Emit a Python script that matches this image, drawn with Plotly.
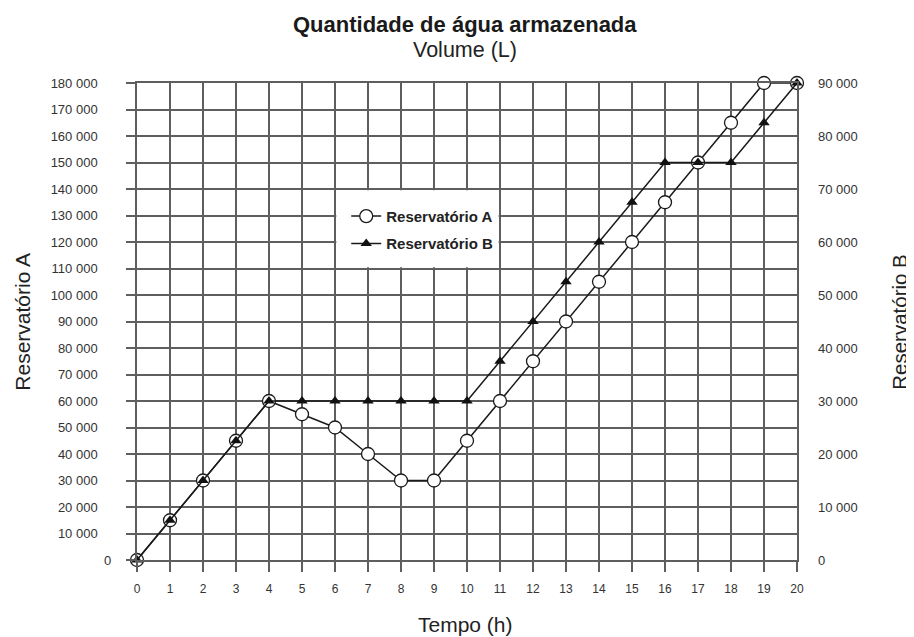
import plotly.graph_objects as go

hours = list(range(21))
res_a = [0, 15000, 30000, 45000, 60000, 55000, 50000, 40000, 30000, 30000, 45000,
         60000, 75000, 90000, 105000, 120000, 135000, 150000, 165000, 180000, 180000]
res_b = [0, 7500, 15000, 22500, 30000, 30000, 30000, 30000, 30000, 30000, 30000,
         37500, 45000, 52500, 60000, 67500, 75000, 75000, 75000, 82500, 90000]

left_vals = list(range(0, 180001, 10000))
left_text = ["" if v == 0 else f"{v:,}".replace(",", " ") for v in left_vals]
right_vals = list(range(0, 90001, 10000))
right_text = [f"{v:,}".replace(",", " ") for v in right_vals]

FONT = "Liberation Sans, Arial, sans-serif"
GRID = "#5e5e5e"

fig = go.Figure()
fig.add_trace(go.Scatter(
    x=hours, y=res_a, name="Reservatório A", mode="lines+markers",
    line=dict(color="#1a1a1a", width=1.5),
    marker=dict(symbol="circle", size=13, color="white", line=dict(color="#1a1a1a", width=1.3)),
    cliponaxis=False, legendgroup="a"))
fig.add_trace(go.Scatter(
    x=hours, y=res_b, name="Reservatório B", mode="lines+markers", yaxis="y2",
    line=dict(color="#1a1a1a", width=1.5),
    marker=dict(symbol="triangle-up", size=10, color="#111111", line=dict(width=0)),
    cliponaxis=False, legendgroup="b"))

fig.update_layout(
    width=906, height=629,
    margin=dict(l=129, r=117, t=75, b=77),
    paper_bgcolor="white", plot_bgcolor="white",
    font=dict(family=FONT, color="#333333"),
    xaxis=dict(range=[0, 20], tickvals=hours, showgrid=True, gridcolor=GRID, gridwidth=1.5,
               zeroline=False, showline=True, linecolor=GRID, linewidth=1.5, mirror=True,
               ticks="outside", ticklen=10, tickcolor=GRID, tickwidth=1.5,
               tickfont=dict(size=12, color="#333333"), ticklabelstandoff=7),
    yaxis=dict(range=[0, 180000], tickvals=left_vals, ticktext=left_text, showgrid=True,
               gridcolor=GRID, gridwidth=1.5, zeroline=False, showline=True, linecolor=GRID,
               linewidth=1.5, mirror=True, ticks="outside", ticklen=9, tickcolor=GRID,
               tickwidth=1.5, tickfont=dict(size=13, color="#333333"), ticklabelstandoff=26),
    yaxis2=dict(range=[0, 90000], overlaying="y", side="right", tickvals=right_vals,
                ticktext=right_text, showgrid=False, zeroline=False, showline=False,
                ticks="", tickfont=dict(size=13, color="#333333"), ticklabelstandoff=20),
    showlegend=True,
    legend=dict(x=0.317, y=0.755, xanchor="left", yanchor="top", bgcolor="rgba(0,0,0,0)",
                font=dict(size=15, color="#222222", family=FONT, weight="bold"),
                traceorder="grouped", tracegroupgap=5, itemwidth=30),
    shapes=[dict(type="rect", xref="x", yref="y", x0=6.04, x1=10.96, y0=110500, y1=139500,
                 fillcolor="white", line=dict(width=0), layer="above")],
    annotations=[
        dict(text="<b>Quantidade de água armazenada</b>", xref="paper", yref="paper",
             x=0.497, y=1.1216, xanchor="center", yanchor="middle", showarrow=False,
             font=dict(size=22, color="#1a1a1a")),
        dict(text="Volume (L)", xref="paper", yref="paper", x=0.497, y=1.069,
             xanchor="center", yanchor="middle", showarrow=False,
             font=dict(size=21.5, color="#222222")),
        dict(text="Reservatório A", xref="paper", yref="paper", x=-0.174, y=0.5,
             xanchor="center", yanchor="middle", textangle=-90, showarrow=False,
             font=dict(size=21, color="#222222")),
        dict(text="Reservatório B", xref="paper", yref="paper", x=1.155, y=0.5,
             xanchor="center", yanchor="middle", textangle=-90, showarrow=False,
             font=dict(size=20.5, color="#222222")),
        dict(text="Tempo (h)", xref="paper", yref="paper", x=0.497, y=-0.136,
             xanchor="center", yanchor="middle", showarrow=False,
             font=dict(size=21, color="#222222")),
        dict(text="0", xref="paper", yref="y", x=-0.036, y=0, xanchor="right",
             yanchor="middle", showarrow=False, font=dict(size=13, color="#333333")),
    ],
)

fig.write_html("out.html")
